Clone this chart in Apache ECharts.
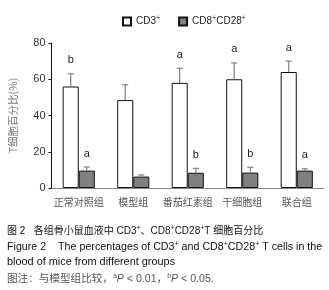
<!DOCTYPE html>
<html><head><meta charset="utf-8">
<script src="https://cdn.jsdelivr.net/npm/echarts@6/dist/echarts.min.js"></script>
<style>html,body{margin:0;padding:0;background:#fff}#c{width:329px;height:290px}</style>
</head><body><div id="c"></div>
<script>
const categories = ['正常对照组','模型组','番茄红素组','干细胞组','联合组'];
const cd3Values = [56, 48.5, 58, 60, 64];
const cd3Err = [63, 57, 66, 69, 70];
const cd3Sig = ['b','','a','a','a'];
const cd8Values = [9.6, 6.3, 8.4, 8.5, 9.6];
const cd8Err = [11.6, 7.2, 10.8, 11.4, 10.6];
const cd8Sig = ['a','','b','b','a'];
const yTicks = [0, 20, 40, 60, 80];

const gapRatio = 0.41;
function errSeries(vals, tops, sigs, side) {
  return {
    type: 'custom',
    z: 5,
    data: vals.map((v, i) => [i, v, tops[i]]),
    renderItem: function (params, api) {
      const i = api.value(0);
      const band = api.size([1, 0])[0];
      const bw = band * (1 - gapRatio) / 2;
      const c0 = api.coord([i, api.value(1)]);
      const c1 = api.coord([i, api.value(2)]);
      const x = c0[0] + side * bw / 2;
      const children = [
        {type: 'line', shape: {x1: x, y1: c0[1], x2: x, y2: c1[1]}, style: {stroke: '#8a8a8a', lineWidth: 1.3}},
        {type: 'line', shape: {x1: x - 3, y1: c1[1], x2: x + 3, y2: c1[1]}, style: {stroke: '#8a8a8a', lineWidth: 1.3}}
      ];
      if (sigs[i]) {
        children.push({type: 'text', style: {text: sigs[i], x: x, y: c1[1] - 8, align: 'center', verticalAlign: 'bottom', fill: '#222', font: '11px "Liberation Sans", Arial, sans-serif'}});
      }
      return {type: 'group', children: children};
    }
  };
}

const chart = echarts.init(document.getElementById('c'));
const capFont = '"Liberation Sans", "Noto Sans CJK SC", sans-serif';
const supRich = {s: {fontSize: 7, verticalAlign: 'top', padding: [0, 0, 6, 0], fill: '#111'}};
chart.setOption({
  animation: false,
  legend: {
    top: 10, left: 117, itemWidth: 8, itemHeight: 8, itemGap: 18,
    icon: 'rect',
    data: ['CD3', 'CD8CD28'],
    formatter: function (n) {
      return n === 'CD3' ? 'CD3{s|+}' : 'CD8{s|+}CD28{s|+}';
    },
    textStyle: {fontSize: 10, color: '#222', fontFamily: capFont,
      rich: {s: {fontSize: 7, verticalAlign: 'top', padding: [0, 0, 6, 0], color: '#222'}}}
  },
  grid: {left: 44, right: 5, top: 43, bottom: 102},
  xAxis: {
    type: 'category', data: categories,
    axisLine: {lineStyle: {color: '#888', width: 1}},
    axisTick: {show: false},
    axisLabel: {interval: 0, fontSize: 10, color: '#555', margin: 9, fontFamily: '"Noto Sans CJK SC", sans-serif'}
  },
  yAxis: {
    type: 'value', min: 0, max: 80, interval: 20,
    name: 'T细胞百分比(%)', nameLocation: 'middle', nameGap: 33, nameRotate: 90,
    nameTextStyle: {fontSize: 10.5, color: '#777', fontFamily: '"Noto Sans CJK SC", sans-serif'},
    axisLine: {show: true, lineStyle: {color: '#111', width: 1}},
    axisTick: {show: true, length: 3, lineStyle: {color: '#111'}},
    splitLine: {show: false},
    axisLabel: {fontSize: 11, color: '#333', margin: 6, fontFamily: capFont,
      formatter: v => yTicks.includes(v) ? String(v) : ''}
  },
  series: [
    {name: 'CD3', type: 'bar', data: cd3Values, barGap: '0%', barCategoryGap: (gapRatio * 100) + '%',
      itemStyle: {color: '#fff', borderColor: '#111', borderWidth: 1}},
    {name: 'CD8CD28', type: 'bar', data: cd8Values,
      itemStyle: {color: '#808080', borderColor: '#111', borderWidth: 1}},
    errSeries(cd3Values, cd3Err, cd3Sig, -1),
    errSeries(cd8Values, cd8Err, cd8Sig, 1)
  ],
  graphic: [
    {type: 'text', left: 7, top: 225, style: {
      text: '图 2   各组骨小鼠血液中 CD3{s|+}、CD8{s|+}CD28{s|+}T 细胞百分比',
      font: '10px ' + capFont, fill: '#111', rich: supRich}},
    {type: 'text', left: 7, top: 241, style: {
      text: 'Figure 2    The percentages of CD3{s|+} and CD8{s|+}CD28{s|+} T cells in the',
      font: '10.7px ' + capFont, fill: '#111', rich: supRich}},
    {type: 'text', left: 7, top: 257, style: {
      text: 'blood of mice from different groups',
      font: '10.9px ' + capFont, fill: '#111'}},
    {type: 'text', left: 7, top: 273, style: {
      text: '图注：与模型组比较，{s|a}{i|P} < 0.01，{s|b}{i|P} < 0.05.',
      font: '10.6px ' + capFont, fill: '#555',
      rich: {s: {fontSize: 7, verticalAlign: 'top', padding: [0, 0, 5, 0], fill: '#555'},
             i: {fontStyle: 'italic', fontSize: 10.6, fill: '#555'}}}}
  ]
});
</script></body></html>
